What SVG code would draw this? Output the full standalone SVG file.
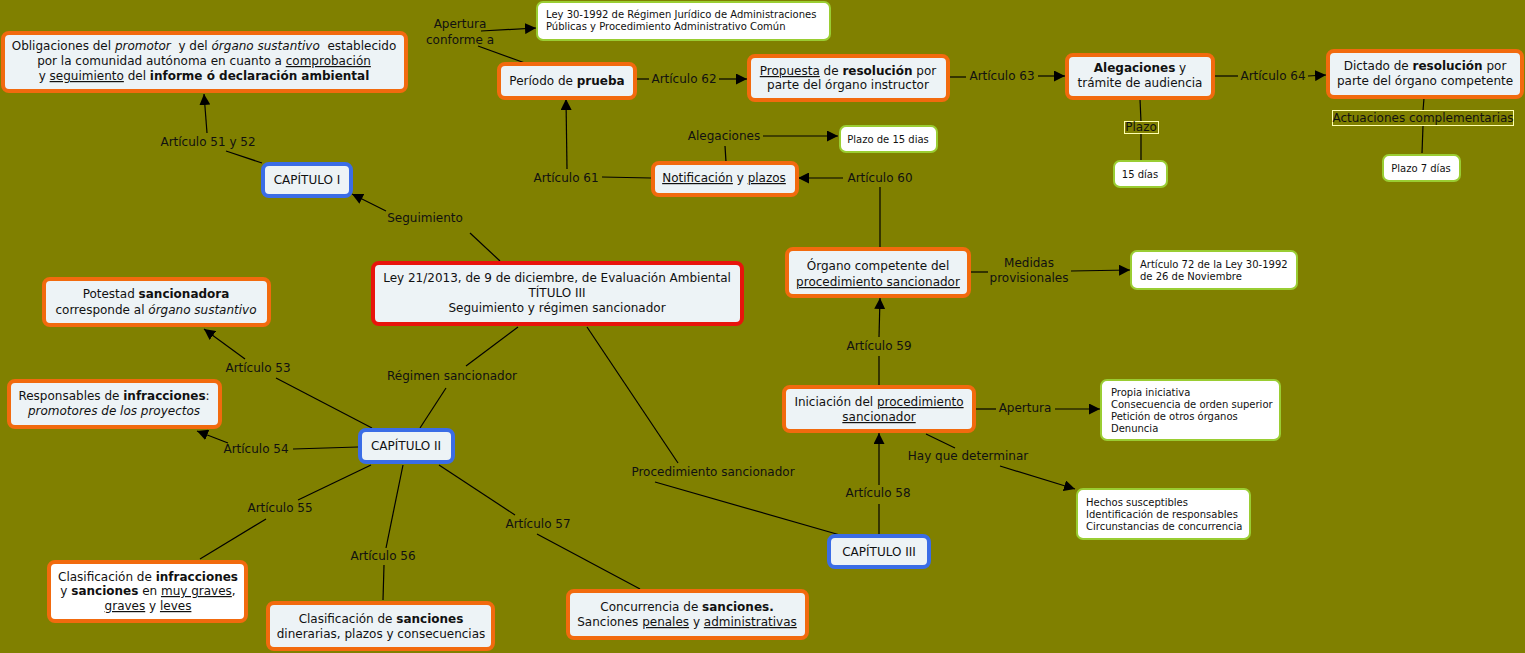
<svg xmlns="http://www.w3.org/2000/svg" width="1525" height="653" viewBox="0 0 1525 653">
<style>
text{font-family:"DejaVu Sans","Verdana",sans-serif;font-size:12px;fill:#111}
.c{text-anchor:middle}
.s{font-size:10px}
.b{font-weight:bold}
.i{font-style:italic}
.u{text-decoration:underline}
.pre{white-space:pre}
.on{fill:#edf3f6;stroke:#f26a0e;stroke-width:4}
.bl{fill:#edf3f6;stroke:#3b6de6;stroke-width:4}
.rd{fill:#edf3f6;stroke:#e8140c;stroke-width:4}
.gr{fill:#fff;stroke:#9acd32;stroke-width:2}
.lb{fill:#808000;stroke:#ffffb0;stroke-width:1}
.ln{stroke:#000;stroke-width:1.2;fill:none}
.ar{stroke:#000;stroke-width:1.2;fill:none;marker-end:url(#ah)}
</style>
<defs>
<marker id="ah" viewBox="0 0 10 10" refX="10" refY="5" markerWidth="11" markerHeight="11" markerUnits="userSpaceOnUse" orient="auto">
<path d="M0,0 L10,5 L0,10 z" fill="#000"/>
</marker>
</defs>
<rect width="1525" height="653" fill="#808000"/>

<g id="connectors">
<line class="ln" x1="525" y1="63" x2="478" y2="46"/>
<line class="ar" x1="481" y1="31" x2="536" y2="28"/>
<line class="ln" x1="636" y1="79" x2="649" y2="79"/>
<line class="ar" x1="719" y1="79" x2="747" y2="79"/>
<line class="ln" x1="949" y1="77" x2="966" y2="77"/>
<line class="ar" x1="1038" y1="76" x2="1065" y2="76"/>
<line class="ln" x1="1214" y1="76" x2="1238" y2="76"/>
<line class="ar" x1="1308" y1="76" x2="1326" y2="75"/>
<line class="ln" x1="1140" y1="99" x2="1141" y2="122"/>
<line class="ln" x1="1141" y1="133" x2="1141" y2="160"/>
<line class="ln" x1="1424" y1="98" x2="1423" y2="111"/>
<line class="ln" x1="1423" y1="126" x2="1422" y2="153"/>
<line class="ln" x1="726" y1="162" x2="725" y2="146"/>
<line class="ar" x1="763" y1="136" x2="838" y2="136"/>
<line class="ln" x1="651" y1="178" x2="602" y2="177"/>
<line class="ar" x1="567" y1="169" x2="566" y2="99"/>
<line class="ln" x1="880" y1="247" x2="880" y2="187"/>
<line class="ar" x1="843" y1="178" x2="798" y2="178"/>
<line class="ln" x1="262" y1="163" x2="226" y2="151"/>
<line class="ar" x1="207" y1="133" x2="204" y2="94"/>
<line class="ln" x1="500" y1="261" x2="470" y2="233"/>
<line class="ar" x1="386" y1="211" x2="352" y2="194"/>
<line class="ln" x1="518" y1="327" x2="466" y2="366"/>
<line class="ln" x1="446" y1="388" x2="420" y2="428"/>
<line class="ln" x1="587" y1="327" x2="678" y2="463"/>
<line class="ln" x1="655" y1="482" x2="840" y2="535"/>
<line class="ln" x1="372" y1="428" x2="276" y2="378"/>
<line class="ar" x1="245" y1="359" x2="204" y2="329"/>
<line class="ln" x1="358" y1="447" x2="293" y2="449"/>
<line class="ar" x1="228" y1="443" x2="197" y2="431"/>
<line class="ln" x1="371" y1="465" x2="298" y2="500"/>
<line class="ln" x1="266" y1="519" x2="200" y2="559"/>
<line class="ln" x1="403" y1="465" x2="386" y2="548"/>
<line class="ln" x1="384" y1="565" x2="383" y2="600"/>
<line class="ln" x1="439" y1="465" x2="515" y2="515"/>
<line class="ln" x1="537" y1="534" x2="640" y2="589"/>
<line class="ln" x1="879" y1="534" x2="879" y2="504"/>
<line class="ar" x1="879" y1="485" x2="879" y2="433"/>
<line class="ln" x1="879" y1="385" x2="879" y2="356"/>
<line class="ar" x1="879" y1="337" x2="880" y2="298"/>
<line class="ln" x1="976" y1="409" x2="996" y2="409"/>
<line class="ar" x1="1055" y1="409" x2="1100" y2="409"/>
<line class="ln" x1="926" y1="434" x2="955" y2="448"/>
<line class="ar" x1="1000" y1="466" x2="1075" y2="489"/>
<line class="ln" x1="971" y1="272" x2="988" y2="272"/>
<line class="ar" x1="1071" y1="271" x2="1130" y2="270"/>
</g>

<g id="labels">
<text class="c" x="460" y="28">Apertura</text>
<text class="c" x="460" y="44">conforme a</text>
<text class="c" x="684" y="83">Artículo 62</text>
<text class="c" x="1002" y="80">Artículo 63</text>
<text class="c" x="1273" y="80">Artículo 64</text>
<rect class="lb" x="1124.5" y="121.5" width="34" height="12"/>
<text class="c" x="1141" y="131">Plazo</text>
<rect class="lb" x="1332.5" y="110.5" width="181" height="15"/>
<text class="c" x="1423" y="122">Actuaciones complementarias</text>
<text class="c" x="724" y="140">Alegaciones</text>
<text class="c" x="566" y="182">Artículo 61</text>
<text class="c" x="880" y="182">Artículo 60</text>
<text class="c" x="208" y="146">Artículo 51 y 52</text>
<text class="c" x="425" y="222">Seguimiento</text>
<text class="c" x="1029" y="267">Medidas</text>
<text class="c" x="1029" y="282">provisionales</text>
<text class="c" x="879" y="350">Artículo 59</text>
<text class="c" x="1025" y="412">Apertura</text>
<text class="c" x="968" y="460">Hay que determinar</text>
<text class="c" x="878" y="497">Artículo 58</text>
<text class="c" x="713" y="476">Procedimiento sancionador</text>
<text class="c" x="452" y="380">Régimen sancionador</text>
<text class="c" x="258" y="372">Artículo 53</text>
<text class="c" x="256" y="453">Artículo 54</text>
<text class="c" x="280" y="512">Artículo 55</text>
<text class="c" x="383" y="560">Artículo 56</text>
<text class="c" x="538" y="528">Artículo 57</text>
</g>

<g id="n-obligaciones">
<rect class="on" x="3" y="33" width="403" height="58" rx="6"/>
<text class="c pre" x="204" y="50">Obligaciones del <tspan class="i">promotor</tspan>  y del <tspan class="i">órgano sustantivo</tspan>  establecido</text>
<text class="c" x="204" y="65">por la comunidad autónoma en cuanto a <tspan class="u">comprobación</tspan></text>
<text class="c" x="204" y="80">y <tspan class="u">seguimiento</tspan> del <tspan class="b">informe ó declaración ambiental</tspan></text>
</g>
<g id="n-ley30">
<rect class="gr" x="537" y="2" width="293" height="38" rx="6"/>
<text class="s" x="546" y="18">Ley 30-1992 de Régimen Jurídico de Administraciones</text>
<text class="s" x="546" y="30">Públicas y Procedimiento Administrativo Común</text>
</g>
<g id="n-periodo">
<rect class="on" x="499" y="64" width="136" height="34" rx="6"/>
<text class="c" x="567" y="85">Período de <tspan class="b">prueba</tspan></text>
</g>
<g id="n-propuesta">
<rect class="on" x="749" y="56" width="199" height="44" rx="6"/>
<text class="c" x="848" y="75"><tspan class="u">Propuesta</tspan> de <tspan class="b">resolución</tspan> por</text>
<text class="c" x="848" y="89">parte del órgano instructor</text>
</g>
<g id="n-alegaciones">
<rect class="on" x="1067" y="55" width="146" height="43" rx="6"/>
<text class="c" x="1140" y="72"><tspan class="b">Alegaciones</tspan> y</text>
<text class="c" x="1140" y="87">trámite de audiencia</text>
</g>
<g id="n-dictado">
<rect class="on" x="1328" y="51" width="194" height="46" rx="6"/>
<text class="c" x="1425" y="70">Dictado de <tspan class="b">resolución</tspan> por</text>
<text class="c" x="1425" y="85">parte del órgano competente</text>
</g>
<g id="n-15dias">
<rect class="gr" x="1114" y="161" width="53" height="26" rx="6"/>
<text class="c s" x="1140" y="178">15 días</text>
</g>
<g id="n-plazo7">
<rect class="gr" x="1383" y="155" width="77" height="26" rx="6"/>
<text class="c s" x="1421" y="172">Plazo 7 días</text>
</g>
<g id="n-plazo15">
<rect class="gr" x="840" y="126" width="97" height="26" rx="6"/>
<text class="c s" x="888" y="143">Plazo de 15 dias</text>
</g>
<g id="n-notificacion">
<rect class="on" x="653" y="163" width="144" height="32" rx="6"/>
<text class="c" x="724" y="182"><tspan class="u">Notificación</tspan> y <tspan class="u">plazos</tspan></text>
</g>
<g id="n-cap1">
<rect class="bl" x="263" y="164" width="88" height="32" rx="6"/>
<text class="c" x="307" y="184">CAPÍTULO I</text>
</g>
<g id="n-ley21">
<rect class="rd" x="373" y="263" width="369" height="61" rx="6"/>
<text class="c" x="557" y="282">Ley 21/2013, de 9 de diciembre, de Evaluación Ambiental</text>
<text class="c" x="557" y="297">TÍTULO III</text>
<text class="c" x="557" y="312">Seguimiento y régimen sancionador</text>
</g>
<g id="n-organo">
<rect class="on" x="787" y="249" width="182" height="47" rx="6"/>
<text class="c" x="878" y="270">Órgano competente del</text>
<text class="c" x="878" y="286"><tspan class="u">procedimiento sancionador</tspan></text>
</g>
<g id="n-art72">
<rect class="gr" x="1131" y="251" width="166" height="38" rx="6"/>
<text class="s" x="1140" y="268">Artículo 72 de la Ley 30-1992</text>
<text class="s" x="1140" y="280">de 26 de Noviembre</text>
</g>
<g id="n-potestad">
<rect class="on" x="44" y="279" width="225" height="46" rx="6"/>
<text class="c" x="156" y="298">Potestad <tspan class="b">sancionadora</tspan></text>
<text class="c" x="156" y="314">corresponde al <tspan class="i">órgano sustantivo</tspan></text>
</g>
<g id="n-responsables">
<rect class="on" x="9" y="381" width="211" height="46" rx="6"/>
<text class="c" x="114" y="400">Responsables de <tspan class="b">infracciones</tspan>:</text>
<text class="c i" x="114" y="415">promotores de los proyectos</text>
</g>
<g id="n-cap2">
<rect class="bl" x="360" y="430" width="93" height="32" rx="6"/>
<text class="c" x="406" y="450">CAPÍTULO II</text>
</g>
<g id="n-iniciacion">
<rect class="on" x="784" y="387" width="190" height="44" rx="6"/>
<text class="c" x="879" y="406">Iniciación del <tspan class="u">procedimiento</tspan></text>
<text class="c" x="879" y="421"><tspan class="u">sancionador</tspan></text>
</g>
<g id="n-propia">
<rect class="gr" x="1101" y="380" width="179" height="60" rx="6"/>
<text class="s" x="1111" y="396">Propia iniciativa</text>
<text class="s" x="1111" y="408">Consecuencia de orden superior</text>
<text class="s" x="1111" y="420">Petición de otros órganos</text>
<text class="s" x="1111" y="432">Denuncia</text>
</g>
<g id="n-hechos">
<rect class="gr" x="1077" y="489" width="173" height="50" rx="6"/>
<text class="s" x="1086" y="506">Hechos susceptibles</text>
<text class="s" x="1086" y="518">Identificación de responsables</text>
<text class="s" x="1086" y="530">Circunstancias de concurrencia</text>
</g>
<g id="n-clasif-inf">
<rect class="on" x="49" y="562" width="197" height="59" rx="6" style="fill:#fff"/>
<text class="c" x="148" y="581">Clasificación de <tspan class="b">infracciones</tspan></text>
<text class="c" x="148" y="595">y <tspan class="b">sanciones</tspan> en <tspan class="u">muy graves</tspan>,</text>
<text class="c" x="148" y="610"><tspan class="u">graves</tspan> y <tspan class="u">leves</tspan></text>
</g>
<g id="n-clasif-san">
<rect class="on" x="268" y="603" width="225" height="46" rx="6"/>
<text class="c" x="381" y="623">Clasificación de <tspan class="b">sanciones</tspan></text>
<text class="c" x="381" y="638">dinerarias, plazos y consecuencias</text>
</g>
<g id="n-concurrencia">
<rect class="on" x="568" y="591" width="239" height="47" rx="6"/>
<text class="c" x="687" y="611">Concurrencia de <tspan class="b">sanciones.</tspan></text>
<text class="c" x="687" y="626">Sanciones <tspan class="u">penales</tspan> y <tspan class="u">administrativas</tspan></text>
</g>
<g id="n-cap3">
<rect class="bl" x="829" y="536" width="100" height="31" rx="6"/>
<text class="c" x="879" y="556">CAPÍTULO III</text>
</g>
</svg>
